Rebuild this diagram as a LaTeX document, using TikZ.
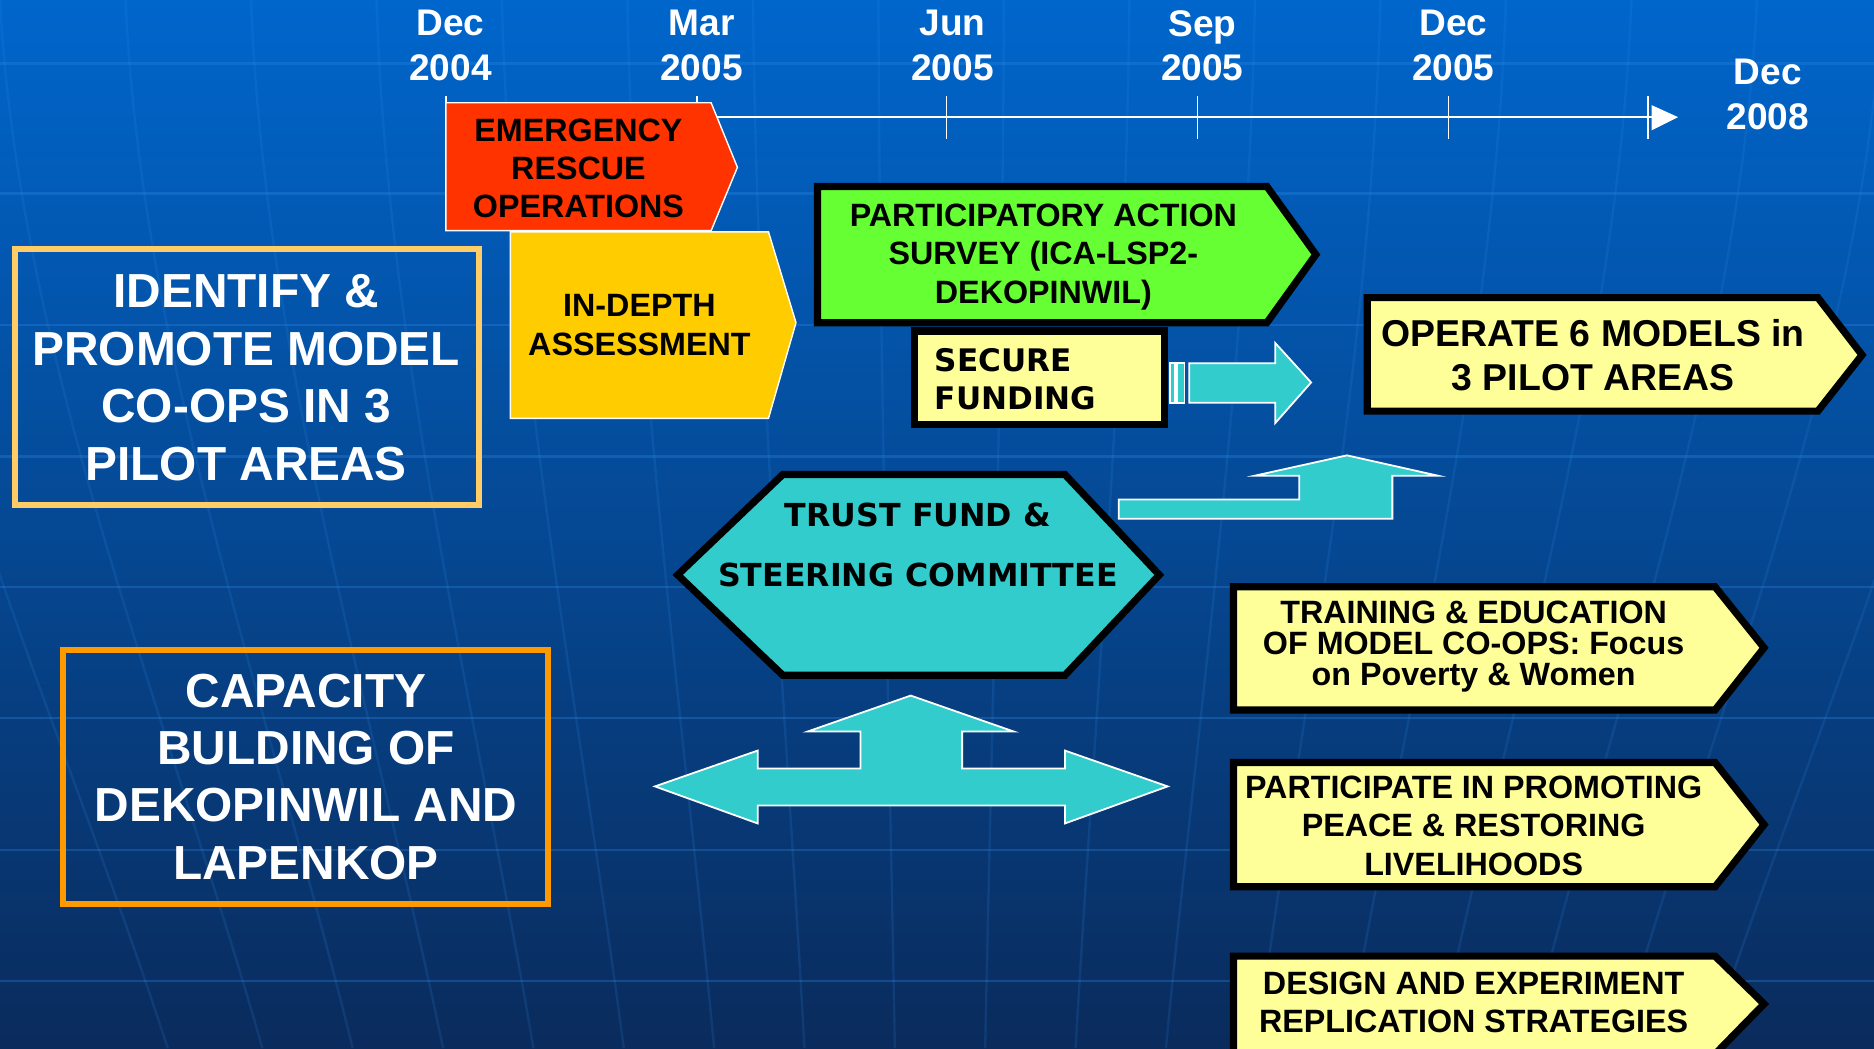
\documentclass[tikz,border=0pt]{standalone}
\usepackage{fontspec}
\setmainfont{Liberation Sans}
\newfontfamily\dejavu{DejaVu Sans}
\definecolor{bgtop}{HTML}{0066CC}
\definecolor{bgbot}{HTML}{0A2B5C}
\definecolor{gridc}{HTML}{2F8CE8}
\definecolor{redc}{HTML}{FF3300}
\definecolor{orc}{HTML}{FFCC00}
\definecolor{grc}{HTML}{66FF33}
\definecolor{yelc}{HTML}{FFFF99}
\definecolor{cyc}{HTML}{33CCCC}
\definecolor{frameA}{HTML}{FFCC66}
\definecolor{frameB}{HTML}{FF9900}
\begin{document}
\begin{tikzpicture}[x=1pt,y=-1pt,
  tl/.style={text=white, font=\bfseries\fontsize{31}{37}\selectfont, align=center, inner sep=0pt},
  blk/.style={text=black, font=\bfseries\fontsize{27}{32}\selectfont, align=center, inner sep=0pt},
  bigw/.style={text=white, font=\bfseries\fontsize{40}{48}\selectfont, align=center, inner sep=0pt},
  thinbox/.style={draw=white, line width=1.2pt},
  thickbox/.style={draw=black, line width=6pt, line join=miter},
  cyarrow/.style={fill=cyc, draw=white, line width=1.5pt, line join=miter},
  gridl/.style={draw=gridc, opacity=0.3, line width=2pt},
  axisl/.style={draw=white, line width=1.3pt}]
\useasboundingbox (0,0) rectangle (1568,877);
\shade[top color=bgtop, bottom color=bgbot] (0,0) rectangle (1568,877);
% background grid
\foreach \yy in {53,162,272,382,491,601,711,821}
  \draw[gridl] (0,\yy) -- (1568,\yy);
\foreach \xx in {-110,0,105,210,315,420,525,630,735,840,945,1050,1155,1260,1365,1470,1575,1680}{
  \pgfmathsetmacro{\xe}{784+(\xx-784)*0.72}
  \pgfmathsetmacro{\ca}{\xx+(784-\xx)*0.02}
  \pgfmathsetmacro{\cb}{\xe-(784-\xx)*0.10}
  \draw[gridl, opacity=0.16] (\xx,0) .. controls (\ca,300) and (\cb,600) .. (\xe,877);
}
% timeline
\coordinate (axs) at (373,98);
\coordinate (axe) at (1385,98);
\draw[axisl] (axs) -- (axe);
\foreach \xx in {373,583,792,1002,1212,1379}
  \draw[axisl] (\xx,80) -- (\xx,116);
\fill[white] (1382,88) -- (1404,98) -- (1382,109) -- cycle;
\node[tl] (t1) at (377,38) {Dec\\2004};
\node[tl] (t2) at (587,38) {Mar\\2005};
\node[tl] (t3) at (797,38) {Jun\\2005};
\node[tl] (t4) at (1006,38) {Sep\\2005};
\node[tl] (t5) at (1216,38) {Dec\\2005};
\node[tl] (t6) at (1479,79) {Dec\\2008};
% left frames
\draw[draw=frameA, line width=5pt] (12.5,208.5) rectangle (400.5,422.5);
\node[bigw] (identify) at (206,316) {IDENTIFY \&\\PROMOTE MODEL\\CO-OPS IN 3\\PILOT AREAS};
\draw[draw=frameB, line width=5pt] (52.5,543.5) rectangle (458.5,756.5);
\node[bigw] (capacity) at (256,650) {CAPACITY\\BULDING OF\\DEKOPINWIL AND\\LAPENKOP};
% emergency
\draw[thinbox, fill=redc] (373,86) -- (595,86) -- (617,140) -- (595,193) -- (373,193) -- cycle;
\node[blk] (emerg) at (484,141) {EMERGENCY\\RESCUE\\OPERATIONS};
% in-depth
\draw[thinbox, fill=orc] (427,194) -- (643,194) -- (666,270) -- (643,350) -- (427,350) -- cycle;
\node[blk] (indepth) at (535,272) {IN-DEPTH\\ASSESSMENT};
% participatory action survey
\draw[thickbox, fill=grc] (684,156) -- (1060,156) -- (1101,213) -- (1060,270) -- (684,270) -- cycle;
\node[blk] (pas) at (873,215) {PARTICIPATORY ACTION\\SURVEY (ICA-LSP2-\\DEKOPINWIL)};
% secure funding
\draw[thickbox, fill=yelc] (765,277) rectangle (974,355);
\node[font=\dejavu\bfseries\fontsize{26}{32}\selectfont, anchor=west, align=left, inner sep=0pt] (secure) at (782,317) {SECURE\\FUNDING};
% right arrow
\draw[cyarrow] (979,304) rectangle (983,337);
\draw[cyarrow] (985,304) rectangle (991,337);
\draw[cyarrow] (995,304) -- (1067,304) -- (1067,287) -- (1097,320) -- (1067,354) -- (1067,337) -- (995,337) -- cycle;
% operate
\draw[thickbox, fill=yelc] (1144,249) -- (1521,249) -- (1558,297) -- (1521,344) -- (1144,344) -- cycle;
\node[blk, font=\bfseries\fontsize{31.3}{37}\selectfont] (operate) at (1333,297) {OPERATE 6 MODELS in\\3 PILOT AREAS};
% L-shaped up arrow
\draw[cyarrow] (936,418) -- (1087,418) -- (1087,398) -- (1050,398) -- (1127,381) -- (1203,398) -- (1165,398) -- (1165,434) -- (936,434) -- cycle;
% hexagon
\draw[thickbox, fill=cyc] (567,481) -- (655,397) -- (891,397) -- (970,481) -- (891,565) -- (655,565) -- cycle;
\node[font=\dejavu\bfseries\fontsize{26.5}{51}\selectfont, align=center, inner sep=0pt] (trust) at (768,456) {TRUST FUND \&\\STEERING COMMITTEE};
% double arrow with up arrow
\draw[cyarrow] (548,658) -- (634,628) -- (634,643) -- (720,643) -- (720,612) -- (676,612) -- (762,582) -- (848,612) -- (805,612) -- (805,643) -- (891,643) -- (891,628) -- (977,658) -- (891,689) -- (891,674) -- (634,674) -- (634,689) -- cycle;
% right column
\draw[thickbox, fill=yelc] (1032,491) -- (1435,491) -- (1476,542) -- (1435,594) -- (1032,594) -- cycle;
\node[blk, font=\bfseries\fontsize{27}{26}\selectfont] (training) at (1233,541) {TRAINING \& EDUCATION\\OF MODEL CO-OPS: Focus\\on Poverty \& Women};
\draw[thickbox, fill=yelc] (1032,638) -- (1435,638) -- (1476,690) -- (1435,742) -- (1032,742) -- cycle;
\node[blk] (peace) at (1233,691) {PARTICIPATE IN PROMOTING\\PEACE \& RESTORING\\LIVELIHOODS};
\draw[thickbox, fill=yelc] (1032,800) -- (1435,800) -- (1476,840) -- (1435,882) -- (1032,882) -- cycle;
\node[blk] (design) at (1233,839) {DESIGN AND EXPERIMENT\\REPLICATION STRATEGIES};
\end{tikzpicture}
\end{document}
